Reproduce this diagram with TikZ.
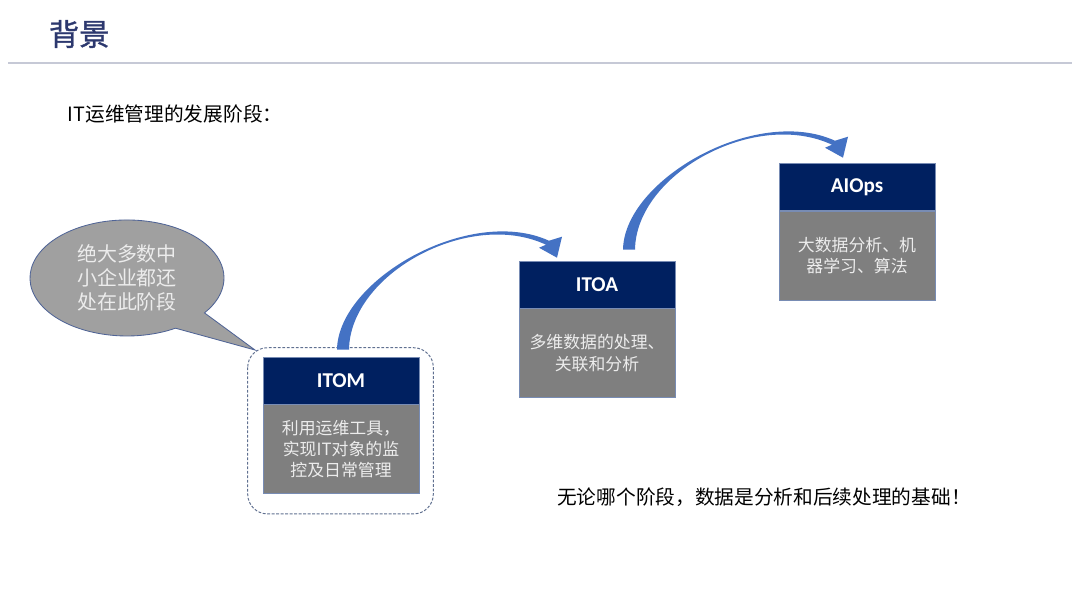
\documentclass[tikz,border=0pt]{standalone}
\usepackage{fontspec}
\setmainfont{Noto Sans CJK SC}[AutoFakeBold=1.2]
\newfontfamily\headfont{Carlito}
\usetikzlibrary{calc}
\definecolor{navy}{RGB}{0,32,96}
\definecolor{boxgrey}{RGB}{127,127,127}
\definecolor{edgeblue}{RGB}{120,140,180}
\definecolor{flowblue}{RGB}{68,114,196}
\definecolor{titleblue}{RGB}{44,56,110}
\definecolor{rulegrey}{RGB}{198,201,214}
\definecolor{bubblegrey}{RGB}{160,160,160}
\definecolor{bubbleedge}{RGB}{80,100,150}
\definecolor{paletext}{RGB}{236,236,236}
\tikzset{
  stagehead/.style={fill=navy, draw=edgeblue, line width=0.4pt, text=white,
    minimum width=3.9cm, minimum height=1.175cm, inner sep=0pt,
    font=\headfont\bfseries\fontsize{15}{18}\selectfont},
  stagebody/.style={fill=boxgrey, draw=edgeblue, line width=0.4pt, text=paletext,
    minimum width=3.9cm, minimum height=2.225cm, inner sep=0pt, anchor=north,
    align=center, font=\fontsize{12}{15.2}\selectfont},
  flowarrow/.style={fill=flowblue, draw=none}
}
% tapered curved arrow, #1 = left end of its foot
\newcommand\curvedflow[1]{%
  \fill[flowarrow, shift={#1}] (0,0) .. controls (1,-70) and (133,-145) .. (212,-109)
    -- (225,-113) -- (220,-92) -- (202,-102) -- (209,-105)
    .. controls (132,-141) and (13,-76) .. (12,0) -- cycle;}

\begin{document}
\begin{tikzpicture}[x=0.025cm, y=-0.025cm]
  \useasboundingbox (0,0) rectangle (1080,607);
  % title and rule
  \node[anchor=west, text=titleblue, font=\bfseries\fontsize{21.5}{24}\selectfont] (title) at (44,34) {背景};
  \draw[rulegrey, line width=1.2pt] (8,63) -- (1072,63);
  \node[anchor=west, font=\fontsize{14}{16}\selectfont] (intro) at (63,114) {IT运维管理的发展阶段：};

  % stage 1: ITOM
  \node[stagehead] (itom) at (341,380.5) {ITOM};
  \node[stagebody] (itomtxt) at (itom.south) {利用运维工具，\\实现IT对象的监\\控及日常管理};
  \draw[edgeblue!80!black, line width=0.7pt, dash pattern=on 2pt off 1.2pt, rounded corners=14pt]
    ($(itom.north west)+(-15,-9)$) rectangle ($(itomtxt.south east)+(14,20)$);

  % stage 2: ITOA
  \node[stagehead] (itoa) at (597,284.5) {ITOA};
  \node[stagebody] (itoatxt) at (itoa.south) {多维数据的处理、\\关联和分析};

  % stage 3: AIOps
  \node[stagehead] (aiops) at (857,187) {AIOps};
  \node[stagebody] (aiopstxt) at (aiops.south) {大数据分析、机\\器学习、算法};

  % arrows between the stages
  \curvedflow{($(itom.north)+(-4,-7)$)}
  \curvedflow{($(itoa.north)+(26,-11)$)}

  % speech bubble
  \draw[fill=bubblegrey, draw=bubbleedge, line width=0.6pt]
    (175.5,328.2) arc[start angle=60, end angle=397, x radius=97, y radius=58] -- (255,350) -- cycle;
  \node[text=paletext, align=center, font=\fontsize{14.2}{17}\selectfont] (bubble) at (127,278)
    {绝大多数中\\小企业都还\\处在此阶段};

  \node[font=\fontsize{14}{16}\selectfont] (note) at (764,497) {无论哪个阶段，数据是分析和后续处理的基础！};
\end{tikzpicture}
\end{document}
